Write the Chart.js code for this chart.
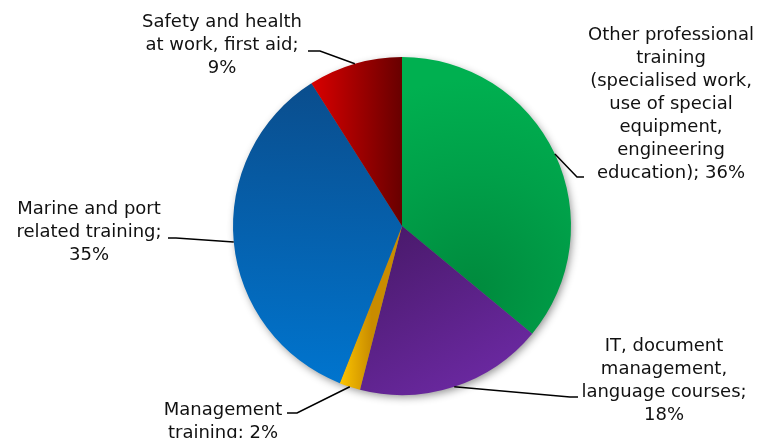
<!DOCTYPE html>
<html>
<head>
<meta charset="utf-8">
<script src="https://cdn.jsdelivr.net/npm/chart.js@4/dist/chart.umd.min.js"></script>
<style>
  html, body { margin: 0; padding: 0; background: #ffffff; }
  #wrap { width: 757px; height: 438px; position: relative; }
</style>
</head>
<body>
<div id="wrap"><canvas id="pie"></canvas></div>
<script>
// Share of training hours by training type (percent)
const categories = [
  'Other professional training (specialised work, use of special equipment, engineering education)',
  'IT, document management, language courses',
  'Management training',
  'Marine and port related training',
  'Safety and health at work, first aid'
];
const shares = [36, 18, 2, 35, 9];

// Wrapped callout text for each category
const labelLines = [
  ['Other professional', 'training', '(specialised work,', 'use of special', 'equipment,', 'engineering', 'education);'],
  ['IT, document', 'management,', 'language courses;'],
  ['Management', 'training;'],
  ['Marine and port', 'related training;'],
  ['Safety and health', 'at work, first aid;']
];
const valueOnOwnLine = [false, true, false, true, true];

// Callout placement: text block centre / first line, leader elbow and end
const calloutLayout = [
  { x: 671, y: 35,  elbow: [577, 177], end: [584, 177] },
  { x: 664, y: 346, elbow: [570, 397], end: [578, 397] },
  { x: 223, y: 410, elbow: [297, 413], end: [287, 413] },
  { x: 89,  y: 209, elbow: [176, 238], end: [168, 238] },
  { x: 222, y: 22,  elbow: [320, 51],  end: [308, 51] }
];

const flatColors = ['#00a84c', '#5e2490', '#f0b400', '#0062b0', '#a80000'];

// Shaded fill for every slice, positioned relative to the pie centre
function sliceFill(ctx) {
  const i = ctx.dataIndex;
  const chart = ctx.chart;
  const area = chart.chartArea;
  if (!area) return flatColors[i];
  const c = chart.ctx;
  const cx = (area.left + area.right) / 2;
  const cy = (area.top + area.bottom) / 2;
  const r = Math.min(area.right - area.left, area.bottom - area.top) / 2;
  let g;
  switch (i) {
    case 0:
      g = c.createRadialGradient(cx + 0.42 * r, cy + 0.38 * r, 0, cx + 0.42 * r, cy + 0.38 * r, 1.25 * r);
      g.addColorStop(0, '#008a3d');
      g.addColorStop(0.55, '#00a049');
      g.addColorStop(1, '#00b050');
      return g;
    case 1:
      g = c.createLinearGradient(cx - 0.1 * r, cy + 0.05 * r, cx + 0.45 * r, cy + r);
      g.addColorStop(0, '#4a1a6c');
      g.addColorStop(1, '#6c29a3');
      return g;
    case 2:
      g = c.createLinearGradient(cx - 0.38 * r, cy, cx - 0.18 * r, cy);
      g.addColorStop(0, '#ffc800');
      g.addColorStop(1, '#c98c00');
      return g;
    case 3:
      g = c.createLinearGradient(cx - 0.4 * r, cy - 0.8 * r, cx - 0.5 * r, cy + 0.95 * r);
      g.addColorStop(0, '#0a4e8e');
      g.addColorStop(1, '#0075cf');
      return g;
    default:
      g = c.createLinearGradient(cx - 0.52 * r, cy, cx, cy);
      g.addColorStop(0, '#d60000');
      g.addColorStop(1, '#680000');
      return g;
  }
}

// Soft drop shadow under the whole pie
const pieShadow = {
  id: 'pieShadow',
  beforeDatasetsDraw(chart) {
    const arc = chart.getDatasetMeta(0).data[0];
    if (!arc) return;
    const { x, y, outerRadius } = arc.getProps(['x', 'y', 'outerRadius'], true);
    const c = chart.ctx;
    c.save();
    c.shadowColor = 'rgba(0,0,0,0.45)';
    c.shadowBlur = 9;
    c.shadowOffsetX = 2;
    c.shadowOffsetY = 3;
    c.fillStyle = '#777777';
    c.beginPath();
    c.arc(x, y, outerRadius - 1, 0, Math.PI * 2);
    c.fill();
    c.restore();
  }
};

// Leader lines and category callouts
const callouts = {
  id: 'callouts',
  afterDatasetsDraw(chart) {
    const meta = chart.getDatasetMeta(0);
    const c = chart.ctx;
    const values = chart.data.datasets[0].data;
    c.save();
    meta.data.forEach((arc, i) => {
      const p = arc.getProps(['x', 'y', 'startAngle', 'endAngle', 'outerRadius'], true);
      const mid = (p.startAngle + p.endAngle) / 2;
      const ax = p.x + Math.cos(mid) * p.outerRadius;
      const ay = p.y + Math.sin(mid) * p.outerRadius;
      const lay = calloutLayout[i];
      c.strokeStyle = '#000000';
      c.lineWidth = 1.5;
      c.beginPath();
      c.moveTo(ax, ay);
      c.lineTo(lay.elbow[0], lay.elbow[1]);
      c.lineTo(lay.end[0], lay.end[1]);
      c.stroke();

      const lines = labelLines[i].slice();
      const pct = values[i] + '%';
      if (valueOnOwnLine[i]) lines.push(pct);
      else lines[lines.length - 1] += ' ' + pct;
      c.fillStyle = '#111111';
      c.font = '18px "DejaVu Sans", Verdana, sans-serif';
      c.textAlign = 'center';
      c.textBaseline = 'middle';
      lines.forEach((t, k) => c.fillText(t, lay.x, lay.y + k * 23));
    });
    c.restore();
  }
};

new Chart(document.getElementById('pie'), {
  type: 'pie',
  data: {
    labels: categories,
    datasets: [{
      data: shares,
      backgroundColor: sliceFill,
      borderWidth: 0,
      hoverOffset: 0,
      offset: 0
    }]
  },
  options: {
    responsive: true,
    maintainAspectRatio: false,
    animation: false,
    layout: { padding: { left: 233, right: 186, top: 57, bottom: 43 } },
    plugins: {
      legend: { display: false },
      tooltip: { enabled: false }
    }
  },
  plugins: [pieShadow, callouts]
});
</script>
</body>
</html>
